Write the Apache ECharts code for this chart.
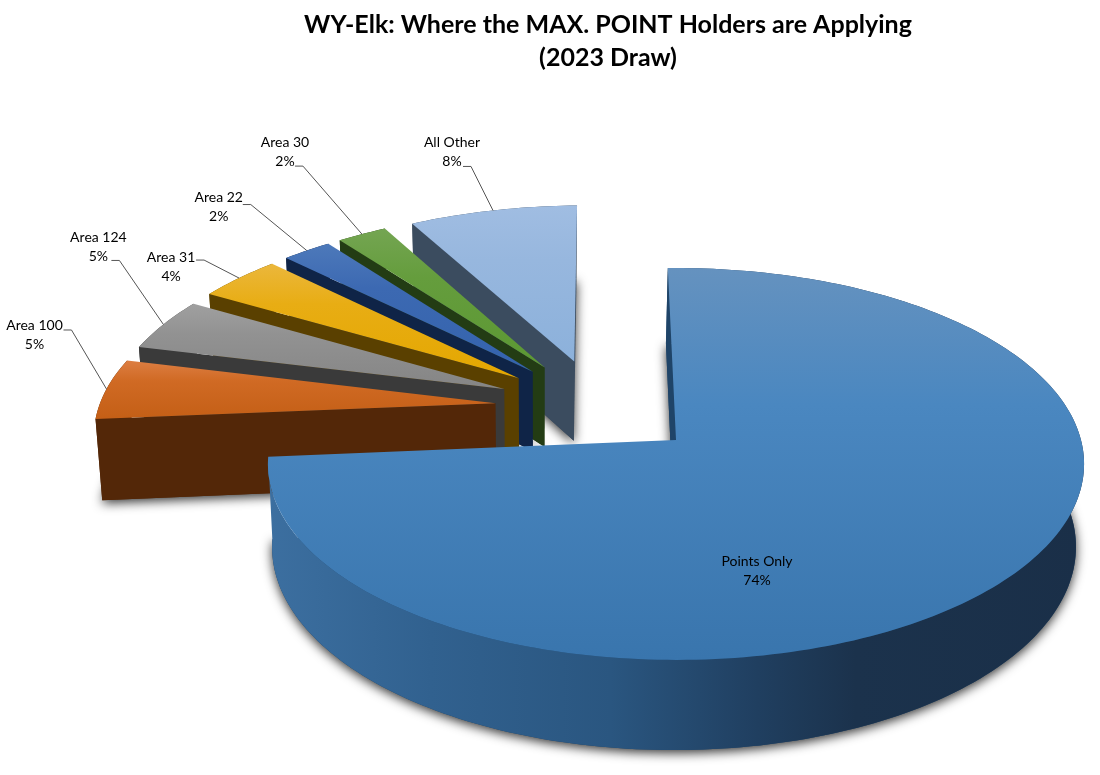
<!DOCTYPE html>
<html><head><meta charset="utf-8">
<style>html,body{margin:0;padding:0;background:#fff}#c{width:1100px;height:775px}</style>
<script src="https://cdn.jsdelivr.net/npm/echarts@6/dist/echarts.min.js"></script>
</head><body><div id="c"></div>
<script>
// ---- data (clockwise from the first slice); labels show the rounded percent ----
const categories = ['Points Only','Area 100','Area 124','Area 31','Area 22','Area 30','All Other'];
const shares     = [74,5.2,4.5,3.9,2.3,2.3,7.8];
const titleText  = 'WY-Elk: Where the MAX. POINT Holders are Applying\n(2023 Draw)';

// ---- styling, kept apart from the data ----
const topColors = [['#6592bf','#4a87c0','#3975ad'],['#dd7e42','#d06a24','#c45f16'],['#a0a0a0','#929292','#858585'],
  ['#ebb73c','#e8ad14','#e4a700'],['#4d79ba','#3c69b2','#3463ad'],['#74a552','#659d3d','#5c9833'],['#a0bde2','#97b7de','#8cb1db']];
const cutColors = ['#1f4468','#532708','#3a3a3a','#5a4000','#0f2447','#233c14','#3b4c5f'];
const rimStops  = [[0,'#3c6fa0'],[0.2,'#31618f'],[0.42,'#2a5680'],[0.6,'#203f60'],[0.72,'#1b324c'],[1,'#1a2f48']];
// pixel offsets from each slice's rim midpoint: [label dx, dy, elbow dx, dy]; null for the inside label
const labelOffsets = [null,[-72,-54,-35,-59],[-65,-77,-44,-64],[-68,-11,-35,-18],[-88,-44,-56,-46],[-77,-82,-59,-68],[-41,-58,-22,-44]];

// ---- projection of the exploded, tilted pie ----
const VIEW = {x0:676,y0:440,rx:405,ry:193,k:0.1224,depth:82,baseScale:0.985,baseShift:-2,explode:0.262,startDeg:-1.3};
const total = shares.reduce((a,b)=>a+b,0);
const rad = d=>d*Math.PI/180;
const spans = []; 
shares.reduce((acc,s)=>{const end=acc+s/total*360;spans.push([acc,end]);return end;},VIEW.startDeg);
const mid = i=>(spans[i][0]+spans[i][1])/2;
const centre = [-VIEW.explode*Math.sin(rad(mid(0))),-VIEW.explode*Math.cos(rad(mid(0)))];
const apexOf = i=>[centre[0]+VIEW.explode*Math.sin(rad(mid(i))),centre[1]+VIEW.explode*Math.cos(rad(mid(i)))];
function project(u,v,low){
  const w=1+VIEW.k*v, s=low?VIEW.baseScale:1;
  return [VIEW.x0+(low?VIEW.baseShift:0)+s*VIEW.rx*u/w, VIEW.y0-s*VIEW.ry*v/w+(low?VIEW.depth/w:0)];
}
const rimAt=(i,deg,low)=>{const a=apexOf(i);return project(a[0]+Math.sin(rad(deg)),a[1]+Math.cos(rad(deg)),low);};
function arc(i,low){
  const [a,b]=spans[i],n=Math.max(4,Math.ceil((b-a)/1.2)),pts=[];
  for(let j=0;j<=n;j++)pts.push(rimAt(i,a+(b-a)*j/n,low));
  return pts;
}
const apexPt=(i,low)=>{const a=apexOf(i);return project(a[0],a[1],low);};
const vGrad=c=>new echarts.graphic.LinearGradient(0,0,0,1,[{offset:0,color:c[0]},{offset:0.35,color:c[1]},{offset:1,color:c[2]}]);
const poly=(points,fill,extra)=>({type:'polygon',shape:{points},style:Object.assign({fill},extra||{}),silent:true});

function renderShadow(params,api){
  const i=api.value(0);
  return poly([apexPt(i,true)].concat(arc(i,true)),cutColors[i],
    {shadowBlur:11,shadowColor:'rgba(0,0,0,0.8)',shadowOffsetX:0,shadowOffsetY:3});
}
function renderSlice(params,api){
  const i=api.value(0), children=[], top=arc(i,false), low=arc(i,true);
  const rimFill=i===0?new echarts.graphic.LinearGradient(0,0,1,0,rimStops.map(s=>({offset:s[0],color:s[1]}))):cutColors[i];
  children.push(poly(top.concat(low.slice().reverse()),rimFill));
  children.push(poly([apexPt(i,false),top[0],low[0],apexPt(i,true)],cutColors[i]));
  children.push(poly([apexPt(i,false)].concat(top),vGrad(topColors[i])));
  return {type:'group',children};
}
function renderLabel(params,api){
  const i=api.value(0), text=categories[i]+'\n'+Math.round(shares[i])+'%', off=labelOffsets[i], children=[];
  const font={fill:'#000',fontFamily:'Lato, "Open Sans", sans-serif',fontSize:14,lineHeight:19,align:'center',verticalAlign:'middle',text};
  if(!off){
    const a=apexPt(i,false);
    children.push({type:'text',x:a[0]+81,y:a[1]+131,style:font,silent:true});
  }else{
    const r=rimAt(i,mid(i),false),el=[r[0]+off[2],r[1]+off[3]];
    children.push({type:'polyline',shape:{points:[[el[0]-8,el[1]],el,r]},style:{stroke:'#555',lineWidth:1,fill:null},silent:true});
    children.push({type:'text',x:r[0]+off[0],y:r[1]+off[1],style:font,silent:true});
  }
  return {type:'group',children};
}
// far slices first, the big near slice last
const drawOrder = categories.map((c,i)=>[i]).reverse();
const chart = echarts.init(document.getElementById('c'),null,{renderer:'canvas'});
chart.setOption({
  animation:false,
  backgroundColor:'#fff',
  title:{text:titleText,left:603,top:3,textAlign:'center',
    textStyle:{fontFamily:'Lato, sans-serif',fontWeight:'bold',fontSize:25,lineHeight:33,color:'#000'}},
  series:[
    {type:'custom',coordinateSystem:'none',z:1,silent:true,data:drawOrder,renderItem:renderShadow},
    {type:'custom',coordinateSystem:'none',z:2,silent:true,data:drawOrder,renderItem:renderSlice},
    {type:'custom',coordinateSystem:'none',z:3,silent:true,data:drawOrder,renderItem:renderLabel}
  ]
});
</script></body></html>
